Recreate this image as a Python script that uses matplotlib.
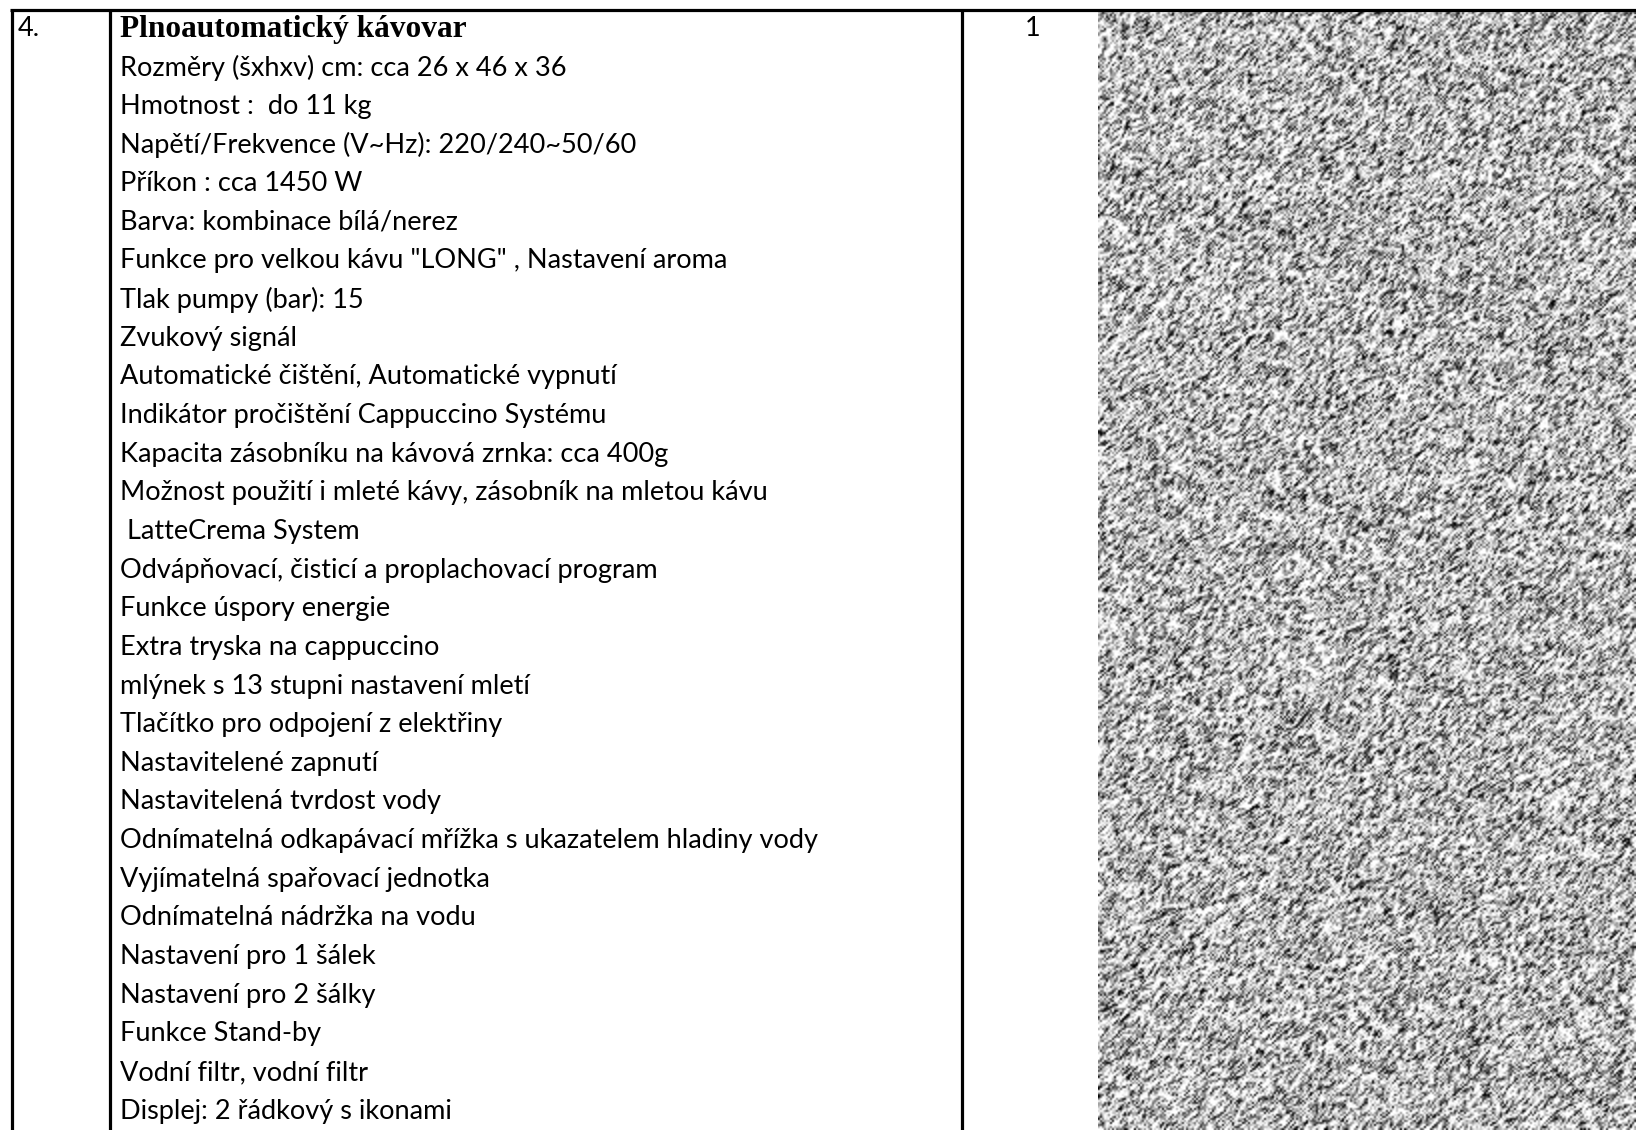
import numpy as np
import matplotlib
matplotlib.use("Agg")
import matplotlib.pyplot as plt

item_number = "4."
item_title = "Plnoautomatický kávovar"
item_quantity = "1"
spec_lines = [
    "Rozměry (šxhxv) cm: cca 26 x 46 x 36",
    "Hmotnost :  do 11 kg",
    "Napětí/Frekvence (V~Hz): 220/240~50/60",
    "Příkon : cca 1450 W",
    "Barva: kombinace bílá/nerez",
    "Funkce pro velkou kávu \"LONG\" , Nastavení aroma",
    "Tlak pumpy (bar): 15",
    "Zvukový signál",
    "Automatické čištění, Automatické vypnutí",
    "Indikátor pročištění Cappuccino Systému",
    "Kapacita zásobníku na kávová zrnka: cca 400g",
    "Možnost použití i mleté kávy, zásobník na mletou kávu",
    " LatteCrema System",
    "Odvápňovací, čisticí a proplachovací program",
    "Funkce úspory energie",
    "Extra tryska na cappuccino",
    "mlýnek s 13 stupni nastavení mletí",
    "Tlačítko pro odpojení z elektřiny",
    "Nastavitelené zapnutí",
    "Nastavitelená tvrdost vody",
    "Odnímatelná odkapávací mřížka s ukazatelem hladiny vody",
    "Vyjímatelná spařovací jednotka",
    "Odnímatelná nádržka na vodu",
    "Nastavení pro 1 šálek",
    "Nastavení pro 2 šálky",
    "Funkce Stand-by",
    "Vodní filtr, vodní filtr",
    "Displej: 2 řádkový s ikonami",
]

W, H = 1636, 1130
fig = plt.figure(figsize=(W / 100, H / 100), dpi=100)
ax = fig.add_axes([0, 0, 1, 1])
ax.set_xlim(0, W)
ax.set_ylim(H, 0)
ax.axis("off")

# photo placeholder texture (deterministic hash pattern)
img_x0, img_y0 = 1098, 10
hh, ww = (H - img_y0) // 2, (W - img_x0) // 2
jj, ii = np.meshgrid(np.arange(ww), np.arange(hh))
v = np.sin(ii * 12.9898 + jj * 78.233) * 43758.5453
v = v - np.floor(v)
s = (v + np.roll(v, (1, -1), axis=(0, 1))) / 2.0
tex = np.clip((s - 0.5) * 2.0 + 0.76, 0, 1)
ax.imshow(tex, cmap="gray", vmin=0, vmax=1, extent=[img_x0, W, H, img_y0],
          interpolation="bilinear", aspect="auto", zorder=1)

lw = 2.3
ax.plot([10, W], [10, 10], color="black", lw=lw, solid_capstyle="butt", zorder=3)
for x in (11.5, 110, 962):
    ax.plot([x, x], [10, H], color="black", lw=lw, solid_capstyle="butt", zorder=3)

row0 = 29
step = 38.65
sans = ["Lato", "DejaVu Sans"]
text_x = 120

fig.canvas.draw()
renderer = fig.canvas.get_renderer()


def fit_size(s, family, weight, target, base=20.0):
    t = ax.text(0, 0, s, fontsize=base, family=family, fontweight=weight)
    w = t.get_window_extent(renderer).width
    t.remove()
    return base * target / w


fs = fit_size(spec_lines[20], sans, "normal", 700)
fs_title = fit_size(item_title, ["Liberation Serif"], "bold", 346)

ax.text(18, row0, item_number, fontsize=fs, family=sans, va="center", ha="left")
ax.text(text_x, row0, item_title, fontsize=fs_title, family=["Liberation Serif"],
        fontweight="bold", va="center", ha="left")
ax.text(1033, row0, item_quantity, fontsize=fs, family=sans, va="center", ha="center")
for i, line in enumerate(spec_lines, start=1):
    ax.text(text_x, row0 + i * step, line, fontsize=fs, family=sans,
            va="center", ha="left")

fig.savefig("out.png", dpi=100)
